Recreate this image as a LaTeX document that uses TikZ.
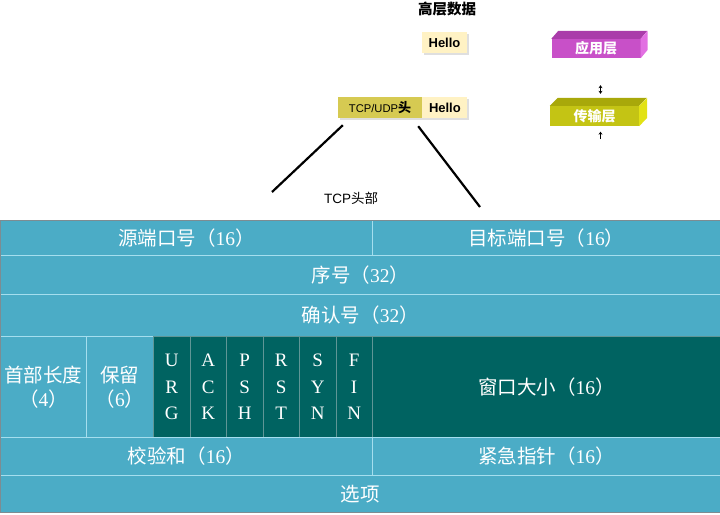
\documentclass[tikz,border=0pt]{standalone}
\usepackage{fontspec}
\setmainfont{Liberation Serif}
\newfontfamily\cjk{Noto Sans CJK SC}
\newfontfamily\arial{Liberation Sans}
\usetikzlibrary{positioning,arrows.meta,shadows}
\definecolor{tcpblue}{RGB}{75,172,198}
\definecolor{tcpteal}{RGB}{0,99,97}
\definecolor{gridline}{RGB}{165,222,238}
\definecolor{flagline}{RGB}{95,150,150}
\definecolor{outline}{RGB}{125,140,146}
\definecolor{hellofill}{RGB}{255,242,196}
\definecolor{hdrfill}{RGB}{214,202,82}
\definecolor{apptop}{RGB}{170,60,170}
\definecolor{appfront}{RGB}{200,80,200}
\definecolor{appside}{RGB}{226,112,226}
\definecolor{transtop}{RGB}{168,168,10}
\definecolor{transfront}{RGB}{196,196,20}
\definecolor{transside}{RGB}{226,226,20}
\newcommand\zh[1]{{\cjk#1}}

\begin{document}
\begin{tikzpicture}[x=1pt,y=-1pt,
    field/.style={draw=gridline, line width=0.8pt, fill=tcpblue, text=white, inner sep=0pt,
      anchor=north west, align=center, font=\fontsize{19.5}{24}\selectfont},
    flag/.style={field, fill=tcpteal, draw=flagline, minimum width=36.5, minimum height=101,
      font=\fontsize{19}{26.5}\selectfont},
    databox/.style={minimum height=21, inner sep=0pt, font=\arial\bfseries\fontsize{13}{14}\selectfont,
      drop shadow={shadow xshift=1.5pt, shadow yshift=-1.5pt, fill=black!25}},
    layer/.style={text=white, minimum width=89, inner sep=0pt, font=\cjk\bfseries\fontsize{14}{16}\selectfont},
    tick/.style={-{Stealth[length=3pt,width=4pt]}, line width=0.8pt},
    dtick/.style={{Stealth[length=3pt,width=4pt]}-{Stealth[length=3pt,width=4pt]}, line width=0.8pt},
    zoomline/.style={line width=2.2pt}
]
\useasboundingbox (0,0) rectangle (720,514);

% upper part: data and layers
\node[font=\cjk\bfseries\fontsize{14.5}{16}\selectfont] (hltitle) at (447,9) {高层数据};
\node[databox, fill=hellofill, minimum width=45] (hello) at (444.5,42.5) {Hello};
\node[databox, fill=hdrfill, minimum width=84] (hdr) at (380,107.5)
  {{\mdseries\fontsize{11.2}{13}\selectfont TCP/UDP}\zh{头}};
\node[databox, fill=hellofill, minimum width=45, right=0pt of hdr] (hello2) {Hello};

\node[layer, fill=appfront, minimum height=19] (app) at (596,48.5) {应用层};
\fill[apptop] (app.north west) -- ++(7,-8) -- ++(89,0) -- (app.north east) -- cycle;
\fill[appside] (app.north east) -- ++(7,-8) -- ++(0,19) -- (app.south east) -- cycle;

\node[layer, fill=transfront, minimum height=20] (trans) at (594.5,116) {传输层};
\fill[transtop] (trans.north west) -- ++(8,-8) -- ++(89,0) -- (trans.north east) -- cycle;
\fill[transside] (trans.north east) -- ++(8,-8) -- ++(0,20) -- (trans.south east) -- cycle;

\draw[dtick, shorten <=27pt, shorten >=12pt] ([xshift=4.5pt]app.south) -- ([xshift=4.5pt]app.south |- trans.north);
\coordinate (feed) at (600.5,139);
\draw[tick, shorten >=5.5pt] (feed) -- (feed |- trans.south);

% zoom onto the header
\coordinate (lfoot) at (272,192);
\coordinate (rfoot) at (480,207);
\draw[zoomline] ([xshift=5pt,yshift=-7pt]hdr.south west) -- (lfoot);
\draw[zoomline] ([xshift=-4pt,yshift=-8pt]hdr.south east) -- (rfoot);
\node[font=\arial\fontsize{13.5}{15}\selectfont] (hdrlabel) at (351,198) {TCP\zh{头部}};

% TCP header fields
\node[field, minimum width=372, minimum height=35] (src) at (0,220) {\zh{源端口号（}16\zh{）}};
\node[field, minimum width=348, minimum height=35] (dst) at (372,220) {\zh{目标端口号（}16\zh{）}};
\node[field, minimum width=720, minimum height=39] (seq) at (0,255) {\zh{序号（}32\zh{）}};
\node[field, minimum width=720, minimum height=42] (ack) at (0,294) {\zh{确认号（}32\zh{）}};
\node[field, minimum width=86, minimum height=101] (hlen) at (0,336) {\zh{首部长度}\\\zh{（}4\zh{）}};
\node[field, minimum width=67, minimum height=101] (resv) at (86,336) {\zh{保留}\\\zh{（}6\zh{）}};
\foreach \a/\b/\c [count=\i from 0] in {U/R/G, A/C/K, P/S/H, R/S/T, S/Y/N, F/I/N}
  \node[flag] (f\i) at ({153+36.5*\i},336) {\a\\\b\\\c};
\node[field, fill=tcpteal, draw=flagline, minimum width=348, minimum height=101] (win) at (372,336) {\zh{窗口大小（}16\zh{）}};
\node[field, minimum width=372, minimum height=38] (csum) at (0,437) {\zh{校验和（}16\zh{）}};
\node[field, minimum width=348, minimum height=38] (urgp) at (372,437) {\zh{紧急指针（}16\zh{）}};
\node[field, minimum width=720, minimum height=37] (opt) at (0,475) {\zh{选项}};
\draw[outline, line width=1pt] (src.north west) rectangle (opt.south east);
\end{tikzpicture}
\end{document}
